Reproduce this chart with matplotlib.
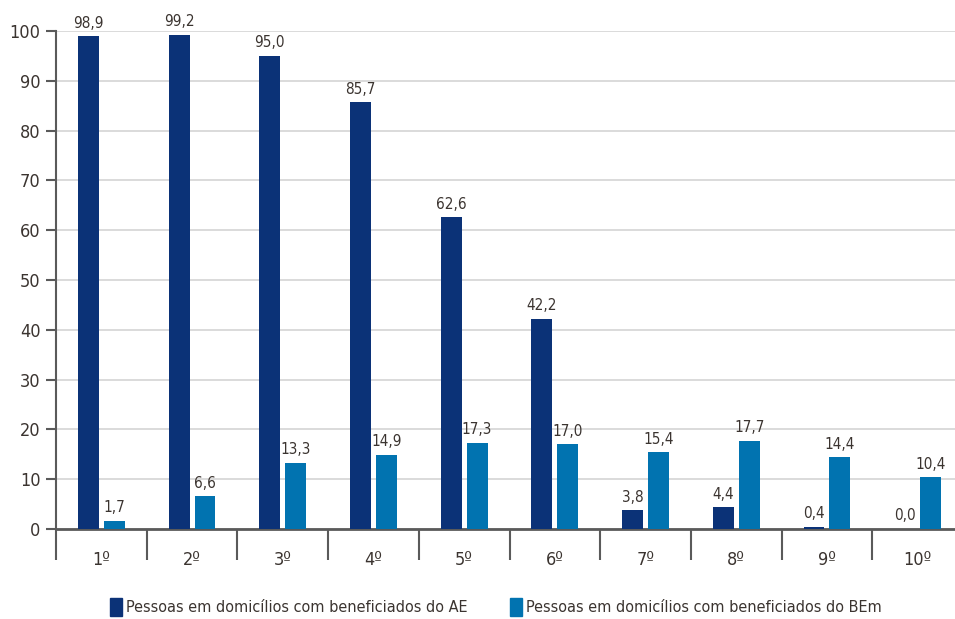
import numpy as np
import matplotlib
matplotlib.use("Agg")
import matplotlib.pyplot as plt
from matplotlib.patches import Patch

plt.rcParams['font.family'] = ['DejaVu Sans']
plt.rcParams['font.stretch'] = 'condensed'

# decis de renda
decis = ['1º', '2º', '3º', '4º', '5º', '6º', '7º', '8º', '9º', '10º']
ae = [98.9, 99.2, 95.0, 85.7, 62.6, 42.2, 3.8, 4.4, 0.4, 0.0]
bem = [1.7, 6.6, 13.3, 14.9, 17.3, 17.0, 15.4, 17.7, 14.4, 10.4]
yticks = list(range(0, 101, 10))

c_ae = '#0b3277'
c_bem = '#0173b0'
txt = '#3b3430'
axc = '#5a5a5a'

fig = plt.figure(figsize=(9.55, 6.19), dpi=100)
ax = fig.add_axes([56 / 955, 1 - 529 / 619, 907 / 955, 498 / 619])

x = np.arange(len(decis))
off = 0.143
w = 0.23
b1 = ax.bar(x - off, ae, w, color=c_ae, zorder=3)
b2 = ax.bar(x + off, bem, w, color=c_bem, zorder=3)

def fmt(v):
    return ('%.1f' % v).replace('.', ',')

for rects, vals in ((b1, ae), (b2, bem)):
    for r, v in zip(rects, vals):
        ax.annotate(fmt(v), (r.get_x() + r.get_width() / 2, v),
                    xytext=(0, 4), textcoords='offset points',
                    ha='center', va='bottom', fontsize=11, color=txt,
                    clip_on=False)

ax.set_xlim(-0.5, len(decis) - 0.5)
ax.set_ylim(0, 100)
ax.set_yticks(yticks)
ax.set_yticklabels([str(t) for t in yticks], fontsize=13, color=txt)
ax.yaxis.grid(True, color='#d4d4d4', lw=1.2, zorder=0)
ax.set_axisbelow(True)

# separadores entre os decis, abaixo do eixo
ax.set_xticks(np.arange(-0.5, len(decis), 1), minor=False)
ax.set_xticklabels([])
ax.tick_params(axis='x', length=22, width=1.5, color=axc, direction='out')
ax.set_xticks(x, minor=True)
ax.set_xticklabels(decis, minor=True, fontsize=13, color=txt)
ax.tick_params(axis='x', which='minor', length=0, pad=16)
ax.tick_params(axis='y', length=7, width=1.5, color=axc, pad=4)

for s in ('top', 'right'):
    ax.spines[s].set_visible(False)
ax.spines['left'].set_color(axc)
ax.spines['left'].set_linewidth(1.5)
ax.spines['bottom'].set_color(axc)
ax.spines['bottom'].set_linewidth(2)

handles = [Patch(color=c_ae), Patch(color=c_bem)]
labels = ['Pessoas em domicílios com beneficiados do AE',
          'Pessoas em domicílios com beneficiados do BEm']
leg = fig.legend(handles, labels, loc='center', bbox_to_anchor=(496 / 955, 1 - 607 / 619),
                 ncol=2, frameon=False, fontsize=11.6, handlelength=0.75,
                 handleheight=1.25, handletextpad=0.25, columnspacing=2.6)
for t in leg.get_texts():
    t.set_color(txt)

fig.savefig('out.png', dpi=100)
